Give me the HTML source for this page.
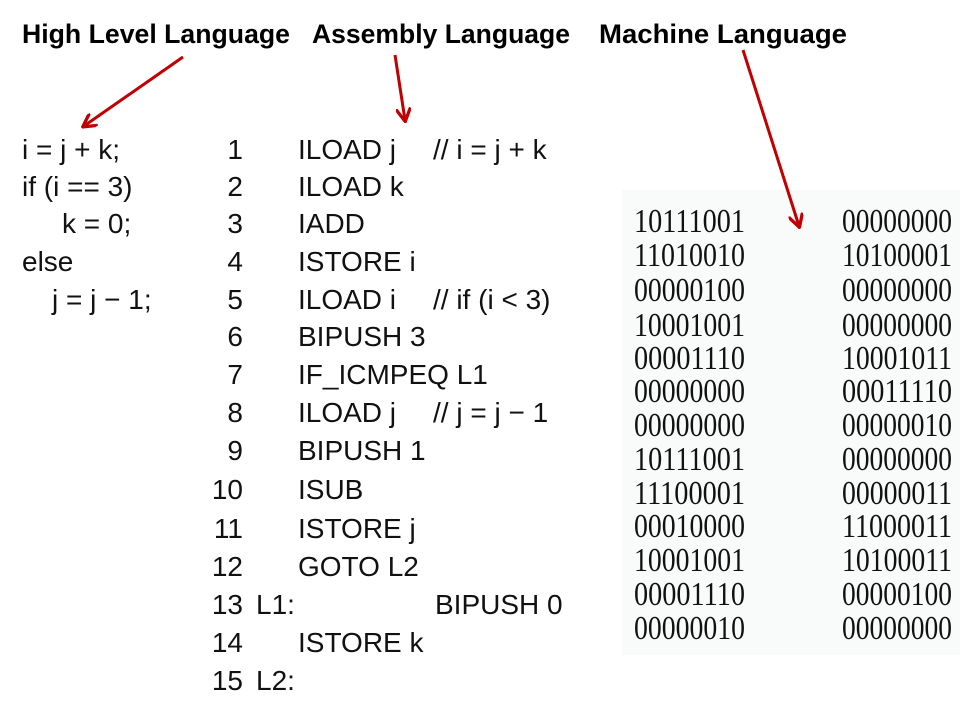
<!DOCTYPE html>
<html><head><meta charset="utf-8"><style>html,body{margin:0;padding:0;background:#fff}svg{display:block}</style></head>
<body>
<svg width="960" height="720" viewBox="0 0 960 720" xmlns="http://www.w3.org/2000/svg">
<rect x="622" y="190" width="338" height="465" fill="#f9fafa"/>
<g font-family="Liberation Sans, sans-serif" font-weight="bold" font-size="27" fill="#000">
<text x="22" y="43" textLength="268" lengthAdjust="spacingAndGlyphs">High Level Language</text>
<text x="312" y="43" textLength="258" lengthAdjust="spacingAndGlyphs">Assembly Language</text>
<text x="599" y="43" textLength="248" lengthAdjust="spacingAndGlyphs">Machine Language</text>
</g>
<defs><marker id="a" viewBox="0 0 10 10" refX="8" refY="5" markerWidth="5" markerHeight="5" orient="auto"><path d="M0,0 L9,5 L0,10" fill="none" stroke="#c00000" stroke-width="2.2"/></marker></defs>
<g stroke="#c00000" stroke-width="3" fill="none" marker-end="url(#a)">
<line x1="183" y1="57" x2="84" y2="126"/>
<line x1="395" y1="55" x2="405" y2="120"/>
<line x1="743" y1="50" x2="799" y2="226"/>
</g>
<g font-family="Liberation Sans, sans-serif" font-size="28" fill="#111">
<text x="22" y="159">i = j + k;</text>
<text x="22" y="196">if (i == 3)</text>
<text x="62" y="233">k = 0;</text>
<text x="22" y="271">else</text>
<text x="52" y="309">j = j − 1;</text>
<g text-anchor="end">
<text x="243" y="159">1</text><text x="243" y="196">2</text><text x="243" y="233">3</text><text x="243" y="271">4</text><text x="243" y="309">5</text><text x="243" y="346">6</text><text x="243" y="384">7</text><text x="243" y="422">8</text><text x="243" y="460">9</text><text x="243" y="499">10</text><text x="243" y="538">11</text><text x="243" y="576">12</text><text x="243" y="614">13</text><text x="243" y="652">14</text><text x="243" y="690">15</text>
</g>
<text x="298" y="159">ILOAD j</text><text x="433" y="159">// i = j + k</text>
<text x="298" y="196">ILOAD k</text>
<text x="298" y="233">IADD</text>
<text x="298" y="271">ISTORE i</text>
<text x="298" y="309">ILOAD i</text><text x="433" y="309">// if (i &lt; 3)</text>
<text x="298" y="346">BIPUSH 3</text>
<text x="298" y="384">IF_ICMPEQ L1</text>
<text x="298" y="422">ILOAD j</text><text x="433" y="422">// j = j − 1</text>
<text x="298" y="460">BIPUSH 1</text>
<text x="298" y="499">ISUB</text>
<text x="298" y="538">ISTORE j</text>
<text x="298" y="576">GOTO L2</text>
<text x="256" y="614">L1:</text><text x="435" y="614">BIPUSH 0</text>
<text x="298" y="652">ISTORE k</text>
<text x="256" y="690">L2:</text>
</g>
<g font-family="Liberation Serif, serif" font-size="34" fill="#111">
<g>
<text x="634" y="232" textLength="111" lengthAdjust="spacingAndGlyphs">10111001</text>
<text x="634" y="266" textLength="111" lengthAdjust="spacingAndGlyphs">11010010</text>
<text x="634" y="301" textLength="111" lengthAdjust="spacingAndGlyphs">00000100</text>
<text x="634" y="336" textLength="111" lengthAdjust="spacingAndGlyphs">10001001</text>
<text x="634" y="369" textLength="111" lengthAdjust="spacingAndGlyphs">00001110</text>
<text x="634" y="402" textLength="111" lengthAdjust="spacingAndGlyphs">00000000</text>
<text x="634" y="436" textLength="111" lengthAdjust="spacingAndGlyphs">00000000</text>
<text x="634" y="470" textLength="111" lengthAdjust="spacingAndGlyphs">10111001</text>
<text x="634" y="504" textLength="111" lengthAdjust="spacingAndGlyphs">11100001</text>
<text x="634" y="537" textLength="111" lengthAdjust="spacingAndGlyphs">00010000</text>
<text x="634" y="571" textLength="111" lengthAdjust="spacingAndGlyphs">10001001</text>
<text x="634" y="605" textLength="111" lengthAdjust="spacingAndGlyphs">00001110</text>
<text x="634" y="639" textLength="111" lengthAdjust="spacingAndGlyphs">00000010</text>
</g>
<g>
<text x="842" y="232" textLength="110" lengthAdjust="spacingAndGlyphs">00000000</text>
<text x="842" y="266" textLength="110" lengthAdjust="spacingAndGlyphs">10100001</text>
<text x="842" y="301" textLength="110" lengthAdjust="spacingAndGlyphs">00000000</text>
<text x="842" y="336" textLength="110" lengthAdjust="spacingAndGlyphs">00000000</text>
<text x="842" y="369" textLength="110" lengthAdjust="spacingAndGlyphs">10001011</text>
<text x="842" y="402" textLength="110" lengthAdjust="spacingAndGlyphs">00011110</text>
<text x="842" y="436" textLength="110" lengthAdjust="spacingAndGlyphs">00000010</text>
<text x="842" y="470" textLength="110" lengthAdjust="spacingAndGlyphs">00000000</text>
<text x="842" y="504" textLength="110" lengthAdjust="spacingAndGlyphs">00000011</text>
<text x="842" y="537" textLength="110" lengthAdjust="spacingAndGlyphs">11000011</text>
<text x="842" y="571" textLength="110" lengthAdjust="spacingAndGlyphs">10100011</text>
<text x="842" y="605" textLength="110" lengthAdjust="spacingAndGlyphs">00000100</text>
<text x="842" y="639" textLength="110" lengthAdjust="spacingAndGlyphs">00000000</text>
</g>
</g>
</svg>
</body></html>
